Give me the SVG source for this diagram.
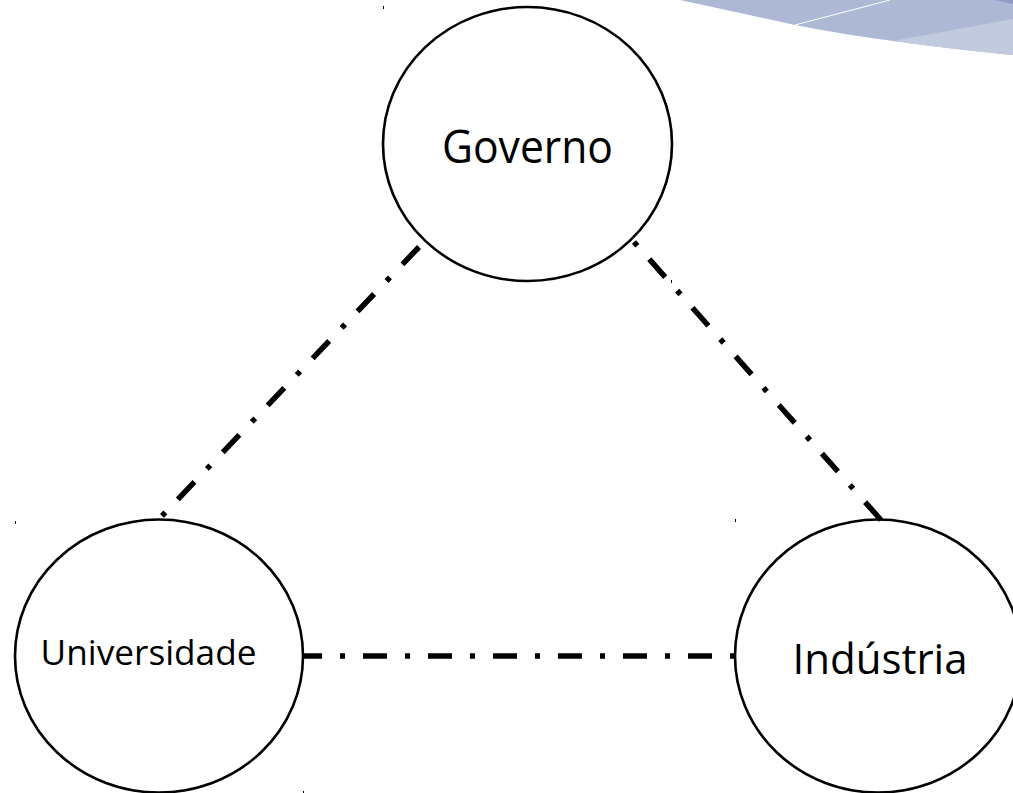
<svg xmlns="http://www.w3.org/2000/svg" width="1013" height="793" viewBox="0 0 1013 793">
  <style>
    .node ellipse { fill: none; stroke: #000; stroke-width: 2.6; }
    .label { font-family: "Open Sans", "Noto Sans", sans-serif; fill: #000; text-anchor: middle; }
    .conn line { stroke: #000; stroke-width: 5.5; fill: none; stroke-dasharray: 24 18 5 18; }
    .tick { fill: #000; }
  </style>
  <rect width="1013" height="793" fill="#fff"/>
  <g id="decoration">
    <path d="M680,0 L1013,0 L1013,55 Q960,50 893,41 Q840,34 795,25 Q740,13 680,0 Z" fill="#adb8d4"/>
    <path d="M893,41 L1013,19 L1013,55 Q960,50 893,41 Z" fill="#c2cadf"/>
    <path d="M995,0 L1013,0 L1013,4 Z" fill="#8f9cc5"/>
    <line x1="795" y1="25" x2="890" y2="0" stroke="#fff" stroke-width="1"/>
  </g>
  <g id="connectors" class="conn">
    <line x1="419" y1="247" x2="160" y2="518"/>
    <line x1="634" y1="242" x2="881" y2="520" style="stroke-dashoffset:42"/>
    <line x1="303" y1="656" x2="737" y2="656" style="stroke-dashoffset:5"/>
  </g>
  <g id="governo" class="node">
    <ellipse cx="527.5" cy="144" rx="144.5" ry="137"/>
    <text class="label" x="527.5" y="163" font-size="45" textLength="171" lengthAdjust="spacingAndGlyphs">Governo</text>
  </g>
  <g id="universidade" class="node">
    <ellipse cx="159" cy="656" rx="144" ry="136.5"/>
    <text class="label" x="148.5" y="665" font-size="35" textLength="216" lengthAdjust="spacingAndGlyphs">Universidade</text>
  </g>
  <g id="industria" class="node">
    <ellipse cx="878" cy="656" rx="143" ry="136.5"/>
    <text class="label" x="880" y="674" font-size="42">Indústria</text>
  </g>
  <g id="ticks">
    <rect class="tick" x="383" y="6" width="1" height="3"/>
    <rect class="tick" x="671" y="280" width="1" height="3"/>
    <rect class="tick" x="15" y="521" width="1" height="3"/>
    <rect class="tick" x="303" y="791" width="1" height="2"/>
    <rect class="tick" x="735" y="519" width="1" height="3"/>
  </g>
</svg>
